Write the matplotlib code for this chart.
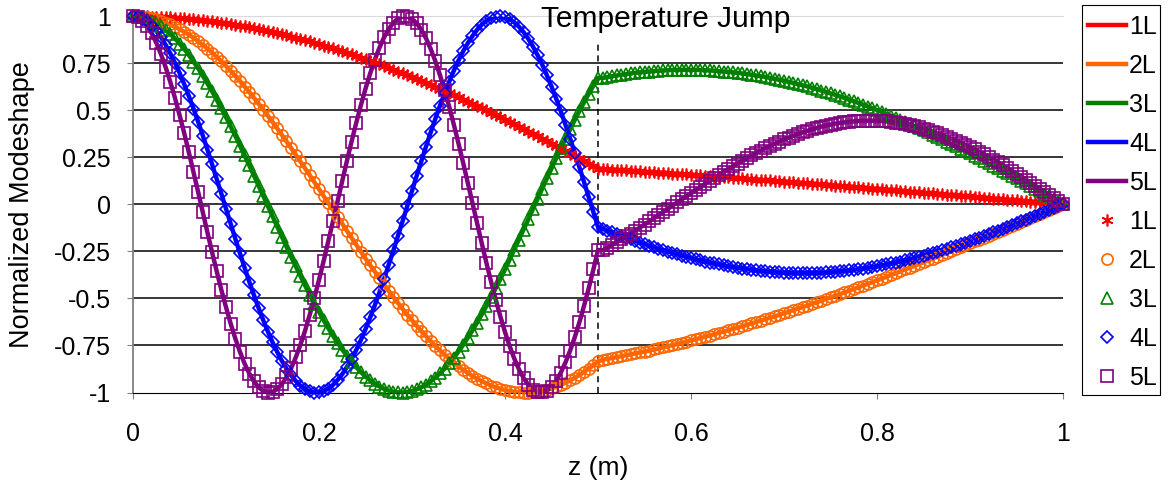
import numpy as np
import matplotlib.pyplot as plt
from matplotlib.patches import Rectangle

plt.rcParams['font.family'] = ['Liberation Sans', 'DejaVu Sans']

# axial position along the rod (m), sampled every 0.005
z = np.linspace(0.0, 1.0, 201)

# normalized longitudinal mode shapes, first five modes
mode_1L = [1.000, 1.000, 1.000, 0.999, 0.998, 0.998, 0.997, 0.995, 0.994, 0.992,
           0.990, 0.989, 0.986, 0.984, 0.981, 0.979, 0.976, 0.973, 0.969, 0.966,
           0.962, 0.958, 0.954, 0.950, 0.946, 0.941, 0.936, 0.931, 0.926, 0.921,
           0.916, 0.910, 0.904, 0.898, 0.892, 0.886, 0.879, 0.872, 0.866, 0.859,
           0.852, 0.844, 0.837, 0.829, 0.821, 0.813, 0.805, 0.797, 0.789, 0.780,
           0.771, 0.762, 0.753, 0.744, 0.735, 0.725, 0.716, 0.706, 0.696, 0.687,
           0.676, 0.666, 0.656, 0.645, 0.635, 0.624, 0.613, 0.602, 0.591, 0.580,
           0.569, 0.557, 0.546, 0.534, 0.522, 0.511, 0.499, 0.487, 0.475, 0.462,
           0.450, 0.438, 0.425, 0.413, 0.400, 0.387, 0.375, 0.362, 0.349, 0.336,
           0.323, 0.310, 0.297, 0.284, 0.270, 0.257, 0.244, 0.230, 0.217, 0.203,
           0.190, 0.188, 0.187, 0.185, 0.184, 0.182, 0.181, 0.179, 0.177, 0.176,
           0.174, 0.172, 0.171, 0.169, 0.168, 0.166, 0.164, 0.162, 0.161, 0.159,
           0.157, 0.155, 0.154, 0.152, 0.150, 0.148, 0.147, 0.145, 0.143, 0.141,
           0.140, 0.138, 0.136, 0.134, 0.132, 0.130, 0.129, 0.127, 0.125, 0.123,
           0.121, 0.119, 0.117, 0.115, 0.114, 0.112, 0.110, 0.108, 0.106, 0.104,
           0.102, 0.100, 0.098, 0.096, 0.094, 0.092, 0.090, 0.088, 0.086, 0.084,
           0.082, 0.080, 0.078, 0.076, 0.074, 0.072, 0.070, 0.068, 0.066, 0.064,
           0.062, 0.060, 0.058, 0.056, 0.054, 0.052, 0.050, 0.048, 0.046, 0.044,
           0.042, 0.040, 0.038, 0.035, 0.033, 0.031, 0.029, 0.027, 0.025, 0.023,
           0.021, 0.019, 0.017, 0.015, 0.013, 0.010, 0.008, 0.006, 0.004, 0.002,
           0.000]

mode_2L = [1.000, 0.999, 0.997, 0.994, 0.989, 0.983, 0.975, 0.966, 0.956, 0.944,
           0.931, 0.917, 0.902, 0.885, 0.867, 0.848, 0.828, 0.806, 0.784, 0.760,
           0.735, 0.709, 0.683, 0.655, 0.626, 0.597, 0.566, 0.535, 0.504, 0.471,
           0.438, 0.404, 0.370, 0.335, 0.300, 0.264, 0.228, 0.191, 0.155, 0.118,
           0.081, 0.044, 0.006, -0.031, -0.068, -0.105, -0.142, -0.179, -0.216, -0.252,
           -0.288, -0.323, -0.358, -0.392, -0.427, -0.460, -0.493, -0.525, -0.556, -0.587,
           -0.616, -0.645, -0.673, -0.700, -0.727, -0.752, -0.776, -0.799, -0.821, -0.841,
           -0.861, -0.879, -0.896, -0.912, -0.927, -0.940, -0.952, -0.963, -0.972, -0.980,
           -0.987, -0.992, -0.996, -0.999, -1.000, -1.000, -0.998, -0.995, -0.991, -0.985,
           -0.978, -0.969, -0.960, -0.948, -0.936, -0.922, -0.907, -0.891, -0.873, -0.854,
           -0.835, -0.826, -0.821, -0.817, -0.812, -0.807, -0.802, -0.797, -0.792, -0.787,
           -0.782, -0.777, -0.771, -0.766, -0.760, -0.754, -0.748, -0.742, -0.736, -0.730,
           -0.723, -0.717, -0.710, -0.704, -0.697, -0.690, -0.683, -0.676, -0.669, -0.662,
           -0.655, -0.648, -0.640, -0.633, -0.625, -0.618, -0.610, -0.603, -0.595, -0.587,
           -0.579, -0.571, -0.562, -0.554, -0.546, -0.538, -0.529, -0.521, -0.512, -0.503,
           -0.494, -0.486, -0.477, -0.468, -0.459, -0.450, -0.441, -0.432, -0.422, -0.413,
           -0.404, -0.395, -0.385, -0.376, -0.366, -0.356, -0.346, -0.337, -0.327, -0.317,
           -0.307, -0.298, -0.288, -0.278, -0.268, -0.258, -0.248, -0.238, -0.228, -0.218,
           -0.207, -0.197, -0.187, -0.177, -0.166, -0.156, -0.146, -0.136, -0.125, -0.115,
           -0.104, -0.094, -0.084, -0.074, -0.063, -0.053, -0.042, -0.032, -0.021, -0.011,
           0.000]

mode_3L = [1.000, 0.999, 0.994, 0.987, 0.976, 0.963, 0.947, 0.928, 0.906, 0.882,
           0.855, 0.826, 0.794, 0.759, 0.723, 0.684, 0.643, 0.601, 0.556, 0.510,
           0.463, 0.414, 0.364, 0.312, 0.260, 0.207, 0.153, 0.099, 0.045, -0.010,
           -0.064, -0.118, -0.172, -0.226, -0.279, -0.330, -0.381, -0.431, -0.480, -0.527,
           -0.572, -0.616, -0.658, -0.698, -0.736, -0.772, -0.805, -0.836, -0.865, -0.891,
           -0.915, -0.935, -0.953, -0.968, -0.980, -0.990, -0.996, -0.999, -1.000, -0.997,
           -0.992, -0.983, -0.972, -0.958, -0.941, -0.921, -0.898, -0.873, -0.845, -0.815,
           -0.782, -0.747, -0.709, -0.670, -0.628, -0.585, -0.540, -0.494, -0.446, -0.397,
           -0.346, -0.293, -0.241, -0.188, -0.134, -0.080, -0.025, 0.029, 0.084, 0.138,
           0.191, 0.245, 0.297, 0.349, 0.399, 0.449, 0.497, 0.543, 0.588, 0.631,
           0.673, 0.672, 0.676, 0.681, 0.685, 0.689, 0.692, 0.696, 0.699, 0.702,
           0.704, 0.706, 0.708, 0.710, 0.712, 0.713, 0.714, 0.715, 0.715, 0.715,
           0.715, 0.715, 0.714, 0.713, 0.712, 0.710, 0.708, 0.706, 0.704, 0.702,
           0.699, 0.696, 0.692, 0.689, 0.685, 0.681, 0.677, 0.672, 0.667, 0.662,
           0.657, 0.651, 0.645, 0.639, 0.633, 0.627, 0.620, 0.613, 0.605, 0.598,
           0.590, 0.582, 0.574, 0.566, 0.557, 0.548, 0.539, 0.530, 0.520, 0.511,
           0.501, 0.491, 0.481, 0.471, 0.460, 0.449, 0.438, 0.427, 0.416, 0.405,
           0.393, 0.382, 0.370, 0.358, 0.346, 0.334, 0.321, 0.309, 0.296, 0.284,
           0.271, 0.258, 0.245, 0.232, 0.218, 0.205, 0.192, 0.179, 0.165, 0.152,
           0.138, 0.125, 0.111, 0.097, 0.083, 0.069, 0.055, 0.042, 0.028, 0.014,
           0.000]

mode_4L = [1.000, 0.997, 0.987, 0.972, 0.950, 0.922, 0.888, 0.848, 0.803, 0.753,
           0.699, 0.639, 0.576, 0.509, 0.439, 0.366, 0.291, 0.213, 0.135, 0.056,
           -0.024, -0.104, -0.183, -0.260, -0.337, -0.411, -0.482, -0.550, -0.615, -0.676,
           -0.733, -0.784, -0.831, -0.873, -0.909, -0.939, -0.964, -0.982, -0.994, -1.000,
           -0.999, -0.992, -0.979, -0.959, -0.933, -0.902, -0.864, -0.822, -0.774, -0.721,
           -0.663, -0.601, -0.536, -0.467, -0.396, -0.320, -0.244, -0.166, -0.087, -0.007,
           0.073, 0.152, 0.230, 0.307, 0.382, 0.454, 0.524, 0.590, 0.652, 0.711,
           0.765, 0.814, 0.857, 0.895, 0.928, 0.955, 0.976, 0.990, 0.998, 1.000,
           0.995, 0.985, 0.967, 0.944, 0.915, 0.880, 0.839, 0.793, 0.742, 0.686,
           0.626, 0.562, 0.494, 0.423, 0.350, 0.274, 0.197, 0.118, 0.039, -0.041,
           -0.121, -0.130, -0.140, -0.149, -0.158, -0.168, -0.177, -0.186, -0.194, -0.203,
           -0.211, -0.220, -0.228, -0.236, -0.243, -0.251, -0.258, -0.265, -0.272, -0.279,
           -0.285, -0.292, -0.298, -0.304, -0.309, -0.314, -0.319, -0.324, -0.329, -0.333,
           -0.337, -0.341, -0.344, -0.348, -0.351, -0.354, -0.356, -0.358, -0.360, -0.362,
           -0.363, -0.364, -0.364, -0.365, -0.365, -0.365, -0.364, -0.364, -0.363, -0.362,
           -0.360, -0.358, -0.356, -0.354, -0.351, -0.348, -0.344, -0.341, -0.337, -0.333,
           -0.329, -0.324, -0.319, -0.314, -0.309, -0.304, -0.298, -0.292, -0.285, -0.279,
           -0.272, -0.265, -0.258, -0.251, -0.243, -0.236, -0.228, -0.220, -0.211, -0.203,
           -0.194, -0.186, -0.177, -0.168, -0.158, -0.149, -0.140, -0.131, -0.121, -0.111,
           -0.101, -0.091, -0.081, -0.071, -0.061, -0.051, -0.041, -0.031, -0.020, -0.010,
           0.000]

mode_5L = [1.000, 0.994, 0.977, 0.948, 0.909, 0.859, 0.799, 0.730, 0.652, 0.567,
           0.475, 0.379, 0.277, 0.172, 0.066, -0.042, -0.149, -0.254, -0.356, -0.455,
           -0.547, -0.634, -0.713, -0.784, -0.847, -0.899, -0.941, -0.972, -0.991, -1.000,
           -0.997, -0.982, -0.956, -0.919, -0.871, -0.813, -0.746, -0.671, -0.587, -0.497,
           -0.401, -0.300, -0.196, -0.090, 0.018, 0.125, 0.231, 0.334, 0.433, 0.527,
           0.615, 0.696, 0.769, 0.833, 0.888, 0.932, 0.966, 0.988, 0.999, 0.998,
           0.986, 0.963, 0.928, 0.883, 0.827, 0.762, 0.688, 0.607, 0.518, 0.423,
           0.323, 0.220, 0.114, 0.007, -0.101, -0.207, -0.311, -0.411, -0.506, -0.596,
           -0.679, -0.754, -0.820, -0.877, -0.923, -0.959, -0.984, -0.997, -0.999, -0.990,
           -0.969, -0.937, -0.894, -0.840, -0.777, -0.706, -0.626, -0.538, -0.446, -0.346,
           -0.243, -0.244, -0.230, -0.216, -0.201, -0.186, -0.170, -0.155, -0.139, -0.123,
           -0.107, -0.091, -0.074, -0.058, -0.041, -0.024, -0.007, 0.010, 0.026, 0.043,
           0.059, 0.076, 0.092, 0.109, 0.125, 0.141, 0.156, 0.172, 0.187, 0.202,
           0.217, 0.232, 0.246, 0.260, 0.273, 0.286, 0.299, 0.311, 0.322, 0.334,
           0.345, 0.355, 0.365, 0.374, 0.383, 0.391, 0.399, 0.406, 0.413, 0.419,
           0.424, 0.429, 0.433, 0.436, 0.439, 0.441, 0.443, 0.444, 0.445, 0.445,
           0.444, 0.443, 0.441, 0.438, 0.435, 0.431, 0.426, 0.421, 0.415, 0.409,
           0.402, 0.395, 0.387, 0.378, 0.369, 0.359, 0.349, 0.339, 0.328, 0.316,
           0.304, 0.292, 0.279, 0.266, 0.252, 0.238, 0.224, 0.209, 0.194, 0.179,
           0.163, 0.148, 0.132, 0.116, 0.100, 0.084, 0.067, 0.050, 0.033, 0.017,
           0.000]

names = ['1L', '2L', '3L', '4L', '5L']
modes = [mode_1L, mode_2L, mode_3L, mode_4L, mode_5L]
colors = ['#ff0000', '#ff6600', '#008000', '#0000ff', '#800080']
markers = [(6, 2, 0), 'o', '^', 'D', 's']
msizes = [8.5, 8, 8, 6.5, 9]

y_ticks = [1, 0.75, 0.5, 0.25, 0, -0.25, -0.5, -0.75, -1]
y_tick_labels = ['1', '0.75', '0.5', '0.25', '0', '-0.25', '-0.5', '-0.75', '-1']
x_ticks = [0, 0.2, 0.4, 0.6, 0.8, 1]
x_tick_labels = ['0', '0.2', '0.4', '0.6', '0.8', '1']

W, H = 1171, 493
fig = plt.figure(figsize=(W / 100, H / 100), dpi=100)
ax = fig.add_axes([0.1136, 0.2038, 0.7942, 0.7633])

# grid lines first so the curves sit on top
for yt in y_ticks[1:-1]:
    ax.axhline(yt, color='black', lw=1.1, zorder=1)

# analytic solution as solid lines
for name, ys, c in zip(names, modes, colors):
    ax.plot(z, ys, '-', color=c, lw=3.2, label=name, zorder=2)

# discrete solution as hollow markers
for name, ys, c, m, ms in zip(names, modes, colors, markers, msizes):
    ax.plot(z, ys, linestyle='none', marker=m, ms=ms, mfc='none', mec=c,
            mew=1.2, label=name, zorder=3, clip_on=False)

# interface where the temperature changes
ax.plot([0.5, 0.5], [-1, 0.86], color='black', lw=1.1, ls=(0, (4, 3)), zorder=1)
ax.text(0.573, 0.985, 'Temperature Jump', ha='center', va='center', fontsize=21.5)

ax.set_xlim(0, 1)
ax.set_ylim(-1, 1)
ax.set_xticks(x_ticks)
ax.set_xticklabels(x_tick_labels)
ax.set_yticks(y_ticks)
ax.set_yticklabels(y_tick_labels)
ax.tick_params(axis='both', labelsize=18, length=4, color='gray')
ax.tick_params(axis='x', pad=17)
ax.tick_params(axis='y', pad=12)
ax.set_xlabel('z (m)', fontsize=19)
ax.set_ylabel('Normalized Modeshape', fontsize=19.5)
ax.xaxis.set_label_coords(0.5, -0.2006)
ax.xaxis.label.set_va('center')
ax.yaxis.set_label_coords(-0.1194, 0.5)
ax.yaxis.label.set_va('center')

ax.spines['right'].set_visible(False)
ax.spines['top'].set_color('#d9d9d9')
ax.spines['left'].set_color('gray')
ax.spines['bottom'].set_color('black')
ax.spines['left'].set_linewidth(1.3)

# legend entries without their own frame; box drawn separately
leg = fig.legend(loc='upper left', bbox_to_anchor=(1088 / W, 1 - 15 / H),
                 fontsize=18, frameon=False, handlelength=1.5,
                 handletextpad=0.15, labelspacing=0.6, borderpad=0,
                 borderaxespad=0)
fig.patches.append(Rectangle((1082 / W, 1 - 395 / H), 78 / W, 390 / H,
                             transform=fig.transFigure, fill=False,
                             edgecolor='black', lw=0.8))

fig.savefig('out.png', dpi=100)
